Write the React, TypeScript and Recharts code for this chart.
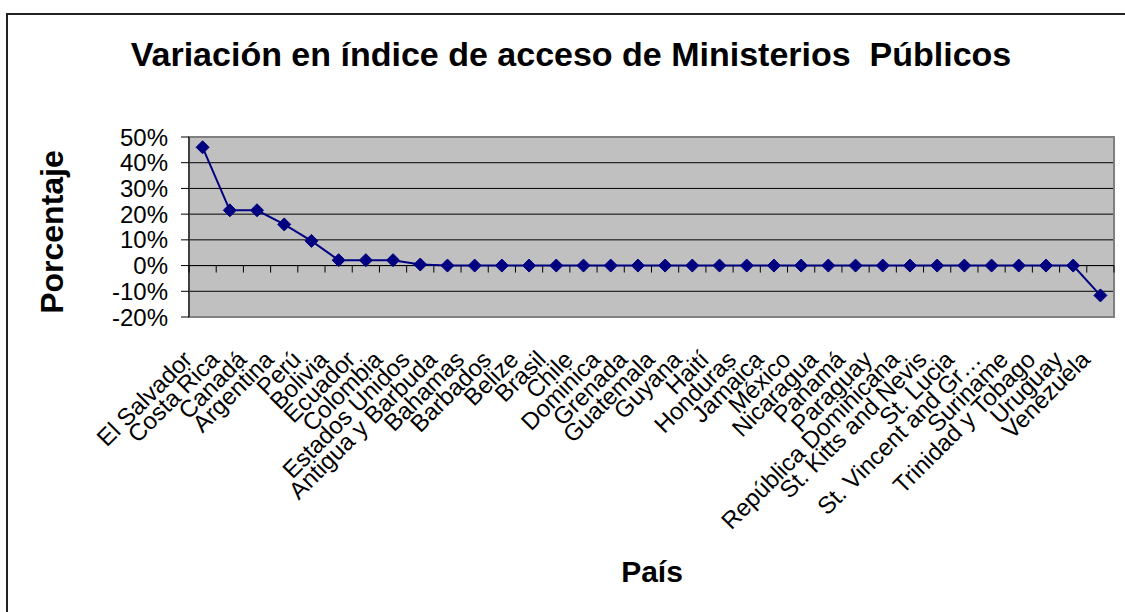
import { CartesianGrid, Line, LineChart, ReferenceArea, ReferenceLine, XAxis, YAxis } from "recharts";

const W = 1125;
const H = 612;
const FONT = "'Liberation Sans', Arial, sans-serif";
const LINE_COLOR = "#000080";

const PAISES = [
  "El Salvador",
  "Costa Rica",
  "Canadá",
  "Argentina",
  "Perú",
  "Bolivia",
  "Ecuador",
  "Colombia",
  "Estados Unidos",
  "Antigua y Barbuda",
  "Bahamas",
  "Barbados",
  "Belize",
  "Brasil",
  "Chile",
  "Dominica",
  "Grenada",
  "Guatemala",
  "Guyana",
  "Haití",
  "Honduras",
  "Jamaica",
  "México",
  "Nicaragua",
  "Panamá",
  "Paraguay",
  "República Dominicana",
  "St. Kitts and Nevis",
  "St. Lucia",
  "St. Vincent and Gr…",
  "Suriname",
  "Trinidad y Tobago",
  "Uruguay",
  "Venezuela",
];

// variación en %
const VARIACION = [
  46, 21.5, 21.5, 16, 9.6, 2.1, 2.1, 2.1, 0.4, 0, 0, 0, 0, 0, 0, 0, 0, 0, 0, 0, 0, 0, 0, 0, 0, 0, 0,
  0, 0, 0, 0, 0, 0, -11.6,
];

const Y_TICKS = [-20, -10, 0, 10, 20, 30, 40, 50];

const data = PAISES.map((pais, i) => ({ pais, valor: VARIACION[i] }));

function Diamond(props: any) {
  const { cx, cy, index } = props;
  if (cx == null || cy == null) return null;
  const r = 6.5;
  return (
    <polygon
      key={`d-${index}`}
      points={`${cx},${cy - r} ${cx + r},${cy} ${cx},${cy + r} ${cx - r},${cy}`}
      fill={LINE_COLOR}
      stroke={LINE_COLOR}
    />
  );
}

function CountryTick(props: any) {
  const { x, y, payload } = props;
  const tx = x - 9;
  const ty = y + 44;
  return (
    <text
      x={tx}
      y={ty}
      textAnchor="end"
      fontSize={24}
      fontFamily={FONT}
      fill="#000"
      transform={`rotate(-45 ${tx} ${ty})`}
    >
      {payload.value}
    </text>
  );
}

// línea del cero con las marcas de categoría hacia abajo
function ZeroLine(props: any) {
  const { x1, x2, y1 } = props;
  if (x1 == null || x2 == null || y1 == null) return null;
  const n = PAISES.length;
  const step = (x2 - x1) / n;
  const marks = [];
  for (let i = 0; i <= n; i++) {
    const x = x1 + i * step;
    marks.push(<line key={i} x1={x} x2={x} y1={y1} y2={y1 + 7} stroke="#000" strokeWidth={1} />);
  }
  return (
    <g>
      <line x1={x1} x2={x2} y1={y1} y2={y1} stroke="#000" strokeWidth={1} />
      {marks}
    </g>
  );
}

export default function App() {
  return (
    <div style={{ position: "absolute", left: 0, top: 0, width: W, height: H, background: "#fff" }}>
      <LineChart
        width={W}
        height={H}
        data={data}
        margin={{ top: 137, right: 11, bottom: 0, left: 0 }}
      >
        <CartesianGrid vertical={false} stroke="#000" fill="#C0C0C0" fillOpacity={1} />
        <XAxis
          dataKey="pais"
          scale="band"
          interval={0}
          height={295}
          axisLine={false}
          tickLine={false}
          tickSize={0}
          tickMargin={0}
          tick={<CountryTick />}
        />
        <YAxis
          width={189}
          domain={[-20, 50]}
          ticks={Y_TICKS}
          interval={0}
          tickFormatter={(v: number) => `${v}%`}
          tick={{ fontSize: 24, fill: "#000", fontFamily: FONT }}
          tickSize={8}
          tickMargin={13}
          axisLine={{ stroke: "#000", strokeWidth: 1 }}
          tickLine={{ stroke: "#000" }}
        />
        <ReferenceArea y1={-20} y2={50} fill="none" stroke="#808080" strokeWidth={2} ifOverflow="visible" />
        <ReferenceLine y={0} shape={<ZeroLine />} />
        <Line
          type="linear"
          dataKey="valor"
          stroke={LINE_COLOR}
          strokeWidth={2}
          dot={<Diamond />}
          activeDot={false}
          isAnimationActive={false}
        />
      </LineChart>
      <svg
        width={W}
        height={H}
        style={{ position: "absolute", left: 0, top: 0, pointerEvents: "none" }}
      >
        <path d={`M7,${H} L7,14 L${W},14`} fill="none" stroke="#222" strokeWidth={2} />
        <text
          x={571}
          y={66}
          textAnchor="middle"
          fontSize={34}
          fontWeight="bold"
          fontFamily={FONT}
          style={{ whiteSpace: "pre" }}
        >
          Variación en índice de acceso de Ministerios  Públicos
        </text>
        <text
          x={63}
          y={232}
          textAnchor="middle"
          fontSize={32}
          fontWeight="bold"
          fontFamily={FONT}
          transform="rotate(-90 63 232)"
        >
          Porcentaje
        </text>
        <text x={652} y={582} textAnchor="middle" fontSize={30} fontWeight="bold" fontFamily={FONT}>
          País
        </text>
      </svg>
    </div>
  );
}
